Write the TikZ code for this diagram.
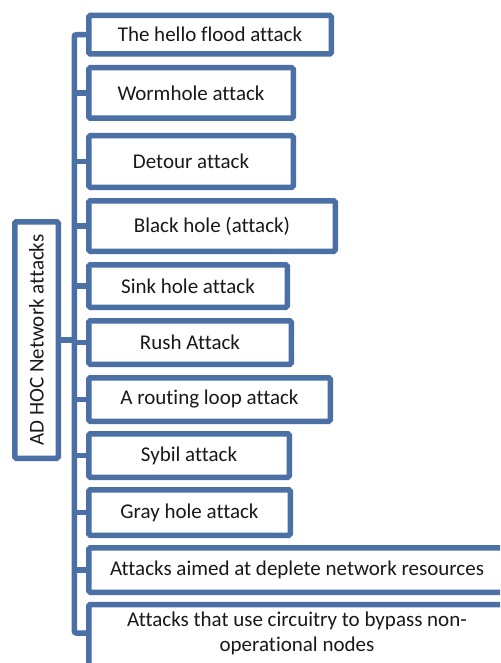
\documentclass[tikz,border=0pt]{standalone}
\usepackage{fontspec}
\setmainfont{Carlito}[Ligatures=NoCommon]
\definecolor{frameblue}{RGB}{74,112,165}
\tikzset{
  attackbox/.style={draw=frameblue, line width=5.5pt, rounded corners=1.5pt,
    fill=white, inner sep=0pt, align=center,
    font=\fontsize{21}{25}\selectfont, text=black!90},
  conn/.style={draw=frameblue, line width=5.5pt, rounded corners=2pt}
}
\begin{document}
\begin{tikzpicture}[x=1pt,y=-1pt]
  \clip (0,0) rectangle (500,663);
  \fill[white] (0,0) rectangle (500,663);

  % root box with vertical title
  \node[attackbox, minimum width=43.5pt, minimum height=236.5pt] (root) at (36.5,340) {};
  \node[rotate=90, font=\fontsize{21}{25}\selectfont, text=black!90] (roottext) at (root.center) {AD HOC Network attacks};

  % attack boxes
  \node[attackbox, minimum width=242.5pt, minimum height=38.5pt] (b1)  at (210,34.7)  {The hello flood attack};
  \node[attackbox, minimum width=204.5pt, minimum height=50.5pt] (b2)  at (191,93)    {Wormhole attack};
  \node[attackbox, minimum width=204.5pt, minimum height=51.5pt] (b3)  at (191,161.5) {Detour attack};
  \node[attackbox, minimum width=246.5pt, minimum height=50.5pt] (b4)  at (212,226)   {Black hole (attack)};
  \node[attackbox, minimum width=198.5pt, minimum height=42.5pt] (b5)  at (188,286)   {Sink hole attack};
  \node[attackbox, minimum width=202.5pt, minimum height=43.5pt] (b6)  at (190,342.5) {Rush Attack};
  \node[attackbox, minimum width=241.5pt, minimum height=43.5pt] (b7)  at (209.5,399.5) {A routing loop attack};
  \node[attackbox, minimum width=200.5pt, minimum height=43.5pt] (b8)  at (189,455.5) {Sybil attack};
  \node[attackbox, minimum width=201.5pt, minimum height=45.5pt] (b9)  at (189.5,512.5) {Gray hole attack};
  \node[attackbox, minimum width=416.5pt, minimum height=44.5pt] (b10) at (297,570)   {Attacks aimed at deplete network resources};
  \node[attackbox, minimum width=416.5pt, minimum height=64pt] (b11) at (297,636.5) {};
  \node[font=\fontsize{21}{25}\selectfont, text=black!90, align=center, inner sep=0pt] (b11text) at (297,633)
    {Attacks that use circuitry to bypass non-\\operational nodes};

  % spine of the tree
  \coordinate (spinebot) at (74.3,633);
  \draw[conn] (b1.west) -| (spinebot) -- (spinebot -| b11.west);
  \foreach \b in {b2,b3,b4,b5,b6,b7,b8,b9,b10}
    \draw[conn] (\b.west) -- (\b.west -| spinebot);
  \draw[conn] (root.east) -- (root.east -| spinebot);
\end{tikzpicture}
\end{document}
